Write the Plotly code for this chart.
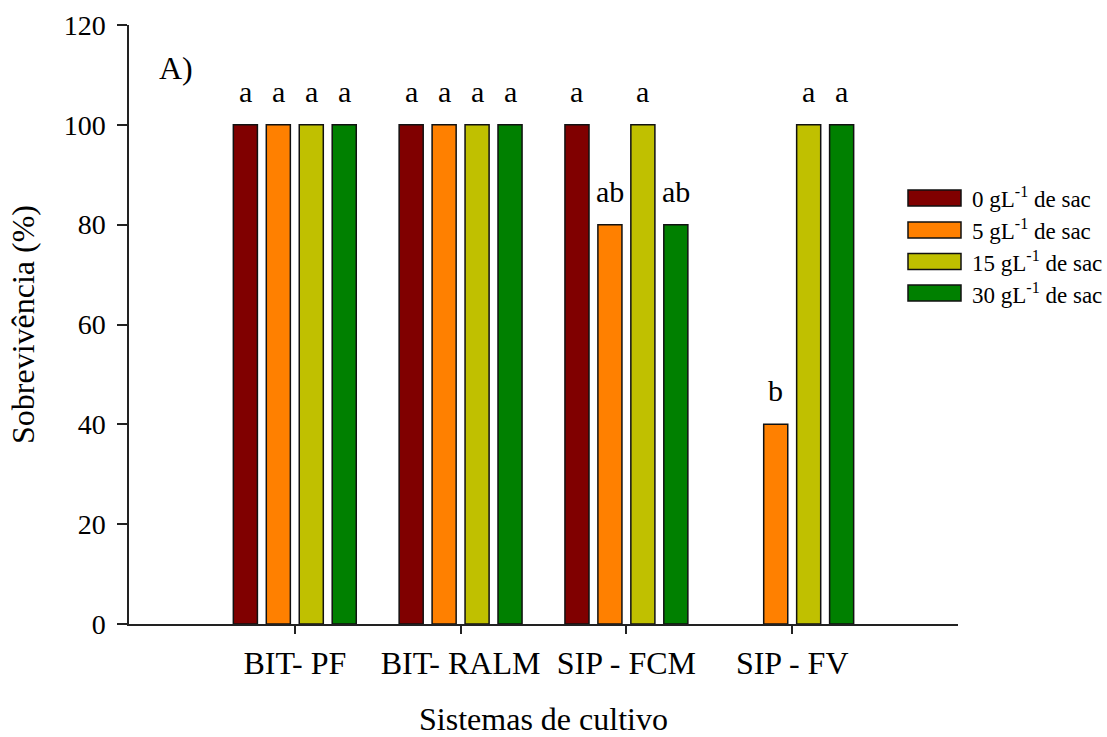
import plotly.graph_objects as go

# ---- data ----
systems = ["BIT- PF", "BIT- RALM", "SIP - FCM", "SIP - FV"]
series_names = ["0 gL<sup>-1</sup> de sac", "5 gL<sup>-1</sup> de sac",
                "15 gL<sup>-1</sup> de sac", "30 gL<sup>-1</sup> de sac"]
sac_0 = [100, 100, 100, None]
sac_5 = [100, 100, 80, 40]
sac_15 = [100, 100, 100, 100]
sac_30 = [100, 100, 80, 100]
letters_0 = ["a", "a", "a", ""]
letters_5 = ["a", "a", "ab", "b"]
letters_15 = ["a", "a", "a", "a"]
letters_30 = ["a", "a", "ab", "a"]
y_ticks = [0, 20, 40, 60, 80, 100, 120]

# ---- style ----
colors = ["#800000", "#FF8000", "#C0C000", "#008000"]
FONT = '"Liberation Serif", "Times New Roman", serif'
BARGAP = 0.205
BARGROUPGAP = 0.27

series = [sac_0, sac_5, sac_15, sac_30]
letters = [letters_0, letters_5, letters_15, letters_30]
n = len(series)

fig = go.Figure()
for i, (vals, name, col) in enumerate(zip(series, series_names, colors)):
    fig.add_trace(go.Bar(
        x=systems, y=vals, name=name, showlegend=False,
        marker=dict(color=col, line=dict(color="#111111", width=1.5)),
    ))

# significance letters above bars
slot = (1 - BARGAP) / n
for i, (vals, labs) in enumerate(zip(series, letters)):
    for j, (v, lab) in enumerate(zip(vals, labs)):
        if v is None or not lab:
            continue
        fig.add_annotation(
            x=j + (i - (n - 1) / 2) * slot, y=v, xref="x", yref="y",
            text=lab, showarrow=False, yanchor="bottom", yshift=15,
            font=dict(family=FONT, size=30, color="black"),
        )

# panel label
fig.add_annotation(x=0.034, y=0.928, xref="paper", yref="paper", text="A)",
                   showarrow=False, xanchor="left", yanchor="middle",
                   font=dict(family=FONT, size=32, color="black"))

# manual legend (large swatches like the original)
plot_l, plot_r, plot_t, plot_b = 129, 958, 25, 624
def px2x(px):
    return (px - plot_l) / (plot_r - plot_l)
def py2y(py):
    return (plot_b - py) / (plot_b - plot_t)

row_centers = [198, 230, 261.5, 293]
for name, col, cy in zip(series_names, colors, row_centers):
    fig.add_shape(type="rect", xref="paper", yref="paper",
                  x0=px2x(908), x1=px2x(961), y0=py2y(cy + 8), y1=py2y(cy - 8),
                  fillcolor=col, line=dict(color="#111111", width=1.5))
    fig.add_annotation(x=px2x(970), y=py2y(cy), xref="paper", yref="paper",
                       text=name, showarrow=False, xanchor="left", yanchor="middle",
                       font=dict(family=FONT, size=23, color="black"))

fig.update_layout(
    width=1107, height=737,
    margin=dict(l=plot_l, r=1107 - plot_r, t=plot_t, b=737 - plot_b),
    paper_bgcolor="white", plot_bgcolor="white",
    barmode="group", bargap=BARGAP, bargroupgap=BARGROUPGAP,
    font=dict(family=FONT, color="black"),
    showlegend=False,
)
fig.update_xaxes(
    type="category", range=[-1, 4], showgrid=False, zeroline=False,
    showline=True, linecolor="#222222", linewidth=1.5,
    ticks="outside", ticklen=8, tickwidth=1.5, tickcolor="#222222",
    tickfont=dict(family=FONT, size=32, color="black"),
    ticklabelstandoff=2,
    title=dict(text="Sistemas de cultivo", font=dict(family=FONT, size=32, color="black"),
               standoff=32),
    automargin=False,
)
fig.update_yaxes(
    range=[0, 120], tickvals=y_ticks, showgrid=False, zeroline=False,
    showline=True, linecolor="#222222", linewidth=1.5,
    ticks="outside", ticklen=10, tickwidth=1.5, tickcolor="#222222",
    tickfont=dict(family=FONT, size=28, color="black"),
    ticklabelstandoff=6,
    title=dict(text="Sobrevivência (%)", font=dict(family=FONT, size=32, color="black"),
               standoff=19),
    automargin=False,
)

fig.write_html("out.html")
